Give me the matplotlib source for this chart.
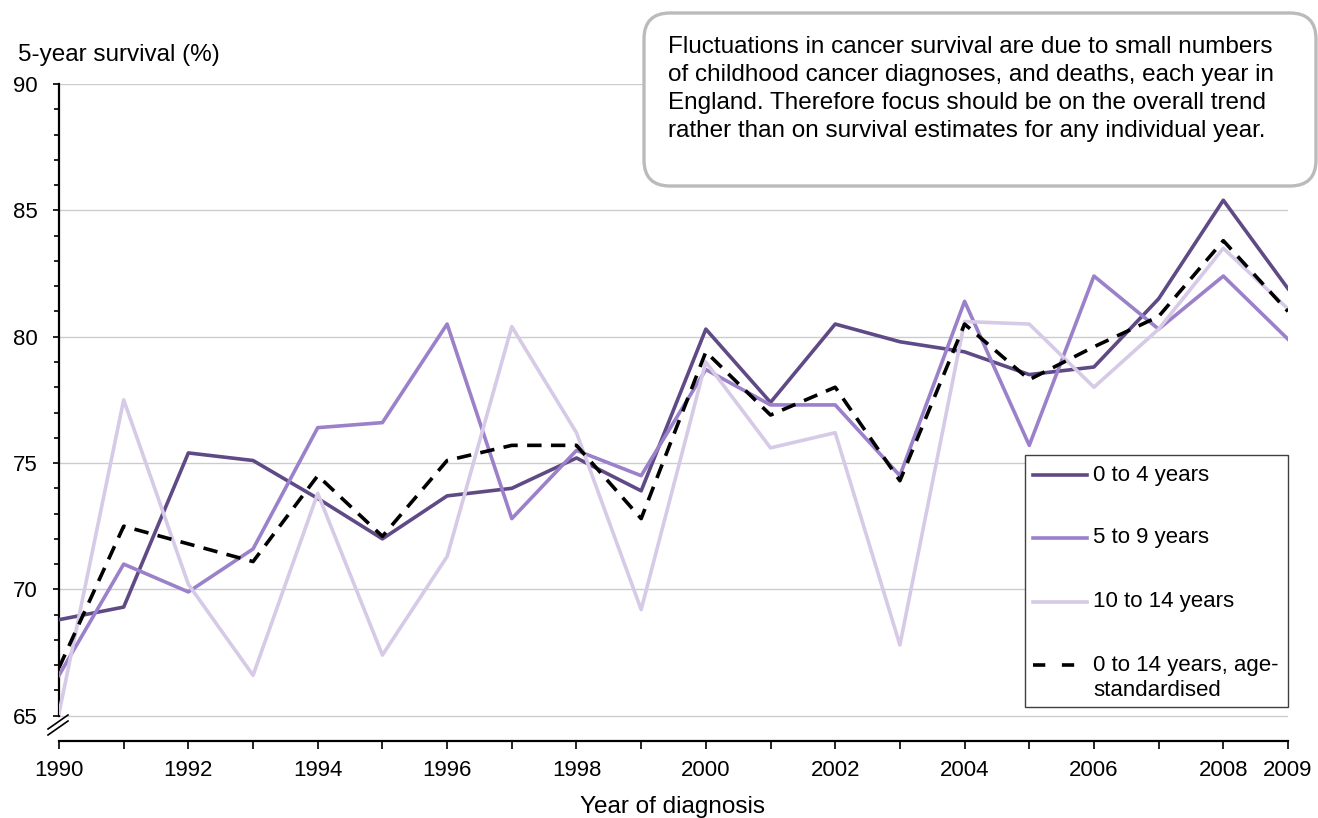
import matplotlib
matplotlib.use('Agg')
import matplotlib.pyplot as plt
from matplotlib.patches import FancyBboxPatch, Rectangle
from matplotlib.lines import Line2D
from matplotlib.transforms import IdentityTransform

# ---------------- data ----------------
years = list(range(1990, 2010))
age_0_4 = [68.8, 69.3, 75.4, 75.1, 73.6, 72.0, 73.7, 74.0, 75.2, 73.9,
           80.3, 77.4, 80.5, 79.8, 79.4, 78.5, 78.8, 81.5, 85.4, 81.9]
age_5_9 = [66.6, 71.0, 69.9, 71.6, 76.4, 76.6, 80.5, 72.8, 75.5, 74.5,
           78.7, 77.3, 77.3, 74.5, 81.4, 75.7, 82.4, 80.3, 82.4, 79.9]
age_10_14 = [65.1, 77.5, 70.2, 66.6, 73.8, 67.4, 71.3, 80.4, 76.2, 69.2,
             79.0, 75.6, 76.2, 67.8, 80.6, 80.5, 78.0, 80.3, 83.5, 81.1]
age_std = [66.9, 72.5, 71.8, 71.1, 74.5, 72.1, 75.1, 75.7, 75.7, 72.8,
           79.4, 76.9, 78.0, 74.3, 80.5, 78.3, 79.6, 80.8, 83.8, 81.0]
series_labels = ["0 to 4 years", "5 to 9 years", "10 to 14 years",
                 "0 to 14 years, age-", "standardised"]
y_ticks = [65, 70, 75, 80, 85, 90]
x_labelled = [1990, 1992, 1994, 1996, 1998, 2000, 2002, 2004, 2006, 2008, 2009]
note_text = ("Fluctuations in cancer survival are due to small numbers\n"
             "of childhood cancer diagnoses, and deaths, each year in\n"
             "England. Therefore focus should be on the overall trend\n"
             "rather than on survival estimates for any individual year.")

# ---------------- style ----------------
plt.rcParams['font.family'] = ['Liberation Sans', 'DejaVu Sans']
W, H = 1318, 818
C_DARK = '#5F4A86'
C_MED = '#9B80CA'
C_LIGHT = '#D6CAE7'
FS = 16
FS_T = 17.5
LW = 2.6


def fx(px):
    return px / W


def fy(py):
    return 1 - py / H


fig = plt.figure(figsize=(W / 100, H / 100), dpi=100)
ax = fig.add_axes([fx(59), fy(741), (1288 - 59) / W, (741 - 84) / H])

ax.plot(years, age_0_4, color=C_DARK, lw=LW, zorder=3)
ax.plot(years, age_5_9, color=C_MED, lw=LW, zorder=3)
ax.plot(years, age_10_14, color=C_LIGHT, lw=LW, zorder=3)
dl, = ax.plot(years, age_std, color='black', lw=LW, zorder=4)
dl.set_dashes([4.0, 2.6])

ax.set_xlim(1990, 2009)
ax.set_ylim(64, 90)

ax.set_yticks(y_ticks)
ax.set_yticks(list(range(65, 91)), minor=True)
ax.set_xticks(years, labels=[str(y) if y in x_labelled else '' for y in years])

ax.tick_params(axis='y', which='major', direction='out', length=4.5, width=1.2,
               labelsize=FS, pad=11)
ax.tick_params(axis='y', which='minor', direction='out', length=3.5, width=1.2)
ax.tick_params(axis='x', which='major', direction='out', length=6, width=1.2,
               labelsize=FS, pad=8)

ax.yaxis.grid(True, which='major', color='#CCCCCC', lw=1.0, zorder=0)
ax.set_axisbelow(True)
for s in ['top', 'right']:
    ax.spines[s].set_visible(False)
ax.spines['left'].set_bounds(65, 90)
ax.spines['left'].set_linewidth(1.6)
ax.spines['bottom'].set_linewidth(1.6)

# axis break marks
for dy in (0, 6):
    fig.add_artist(Line2D([fx(48), fx(68)], [fy(735 - dy), fy(721 - dy)],
                          color='black', lw=1.2))

# axis titles
fig.text(fx(18), fy(61), "5-year survival (%)", fontsize=FS_T, va='baseline', ha='left')
fig.text(fx(673), fy(813), "Year of diagnosis", fontsize=FS_T, va='baseline', ha='center')

# note box
box = FancyBboxPatch((644, H - 186), 1316 - 644, 186 - 13,
                     boxstyle="round,pad=0,rounding_size=26",
                     transform=IdentityTransform(), fc='white', ec='#BBBBBB',
                     lw=2.4, zorder=5)
fig.add_artist(box)
fig.text(fx(668), fy(36), note_text, fontsize=FS_T, va='top', ha='left',
         linespacing=1.36, zorder=6)

# legend (drawn manually)
leg = Rectangle((fx(1025), fy(707)), fx(1288) - fx(1025), fy(455) - fy(707),
                transform=fig.transFigure, fc='white', ec='#404040', lw=1.0, zorder=5)
fig.add_artist(leg)
rows = [475, 538, 602, 665]
cols = [C_DARK, C_MED, C_LIGHT, 'black']
for i, (ry, c) in enumerate(zip(rows, cols)):
    if i == 3:
        ln = Line2D([fx(1033), fx(1076)], [fy(ry), fy(ry)], color=c, lw=LW, zorder=6)
        ln.set_dashes([3.4, 4.6])
    else:
        ln = Line2D([fx(1033), fx(1087)], [fy(ry), fy(ry)], color=c, lw=LW, zorder=6)
    fig.add_artist(ln)
    fig.text(fx(1093), fy(ry), series_labels[i], fontsize=FS, va='center',
             ha='left', zorder=6)
fig.text(fx(1093), fy(690), series_labels[4], fontsize=FS, va='center',
         ha='left', zorder=6)

fig.savefig('out.png', dpi=100)
